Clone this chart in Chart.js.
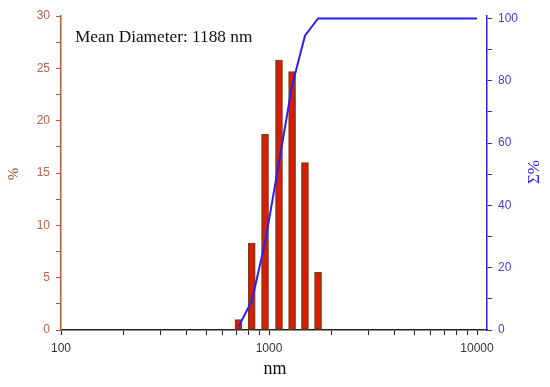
<!DOCTYPE html>
<html>
<head>
<meta charset="utf-8">
<script src="https://cdn.jsdelivr.net/npm/chart.js@4"></script>
<style>
  html, body { margin: 0; padding: 0; background: #fff; }
  #wrap { width: 550px; height: 387px; }
</style>
</head>
<body>
<div id="wrap"><canvas id="sizeChart" width="550" height="387"></canvas></div>
<script>
// particle size distribution
const sizesNm = [713, 826, 957, 1117, 1291, 1489, 1721];
const percent = [1.0, 8.3, 18.7, 25.8, 24.7, 16.0, 5.5];
const cumSizesNm = [713, 826, 957, 1117, 1291, 1489, 1721, 10000];
const cumPercent = [1.0, 9.3, 28.0, 53.8, 78.5, 94.5, 100, 100];

const xTicks = [100, 200, 300, 400, 500, 600, 700, 800, 900,
                1000, 2000, 3000, 4000, 5000, 6000, 7000, 8000, 9000, 10000];
const xLabels = [100, 1000, 10000];
const leftTicks = [0, 2.5, 5, 7.5, 10, 12.5, 15, 17.5, 20, 22.5, 25, 27.5, 30];
const rightTicks = [0, 10, 20, 30, 40, 50, 60, 70, 80, 90, 100];

const brown = '#b35a3c';
const blue = '#2d1ff0';

const textPlugin = {
    id: 'labels',
    afterDraw(chart) {
        const c = chart.ctx;
        c.save();
        c.fillStyle = '#111';
        c.font = '17.3px "Liberation Serif", serif';
        c.textBaseline = 'alphabetic';
        c.fillText('Mean Diameter: 1188 nm', 75, 41.5);

        c.textAlign = 'center';
        c.font = '18px "Liberation Serif", serif';
        c.fillText('nm', 275, 374);

        c.save();
        c.translate(14, 174);
        c.rotate(-Math.PI / 2);
        c.fillStyle = '#9c5a2c';
        c.font = '15px "Liberation Serif", serif';
        c.textBaseline = 'middle';
        c.fillText('%', 0, 0);
        c.restore();

        c.save();
        c.translate(535, 172);
        c.rotate(-Math.PI / 2);
        c.fillStyle = blue;
        c.font = '17px "Liberation Serif", serif';
        c.textBaseline = 'middle';
        c.fillText('Σ%', 0, 0);
        c.restore();
        c.restore();
    }
};

const ctx = document.getElementById('sizeChart').getContext('2d');
const sizeChart = new Chart(ctx, {
    type: 'bar',
    data: {
        datasets: [{
            type: 'line',
            data: cumSizesNm.map((v, i) => ({x: v, y: cumPercent[i]})),
            yAxisID: 'y2',
            borderColor: blue,
            borderWidth: 2,
            pointRadius: 0,
            tension: 0,
            order: 1
        }, {
            type: 'bar',
            data: sizesNm.map((v, i) => ({x: v, y: percent[i]})),
            yAxisID: 'y',
            backgroundColor: '#dc1c02',
            borderColor: '#7e3a16',
            borderWidth: 1.5,
            borderSkipped: false,
            barThickness: 7,
            order: 2
        }]
    },
    options: {
        responsive: false,
        animation: false,
        layout: { padding: { top: 16, left: 0, right: 0, bottom: 0 } },
        plugins: {
            legend: { display: false },
            tooltip: { enabled: false }
        },
        scales: {
            x: {
                type: 'logarithmic',
                min: 100,
                max: 11170,
                offset: false,
                afterBuildTicks: s => { s.ticks = xTicks.map(v => ({value: v})); },
                afterFit: s => { s.height = 57; },
                grid: { offset: false, drawOnChartArea: false, tickLength: 5, color: '#222' },
                border: { color: '#222', width: 1.5 },
                ticks: {
                    autoSkip: false,
                    maxRotation: 0,
                    padding: 6,
                    color: '#333',
                    font: { family: '"Liberation Sans", Arial, sans-serif', size: 12 },
                    callback: v => xLabels.includes(v) ? String(v) : ''
                }
            },
            y: {
                position: 'left',
                min: 0,
                max: 30,
                afterBuildTicks: s => { s.ticks = leftTicks.map(v => ({value: v})); },
                afterFit: s => { s.width = 61; },
                grid: { drawOnChartArea: false, tickLength: 5, color: brown },
                border: { color: brown, width: 1.5 },
                ticks: {
                    padding: 6,
                    color: '#c0604a',
                    font: { family: '"Liberation Sans", Arial, sans-serif', size: 12 },
                    callback: v => v % 5 === 0 ? String(v) : ''
                }
            },
            y2: {
                position: 'right',
                min: 0,
                max: 100.8,
                afterBuildTicks: s => { s.ticks = rightTicks.map(v => ({value: v})); },
                afterFit: s => { s.width = 63; },
                grid: { drawOnChartArea: false, tickLength: 5, color: blue },
                border: { color: blue, width: 1.5 },
                ticks: {
                    padding: 6,
                    color: '#4a3ae6',
                    font: { family: '"Liberation Sans", Arial, sans-serif', size: 12 },
                    callback: v => v % 20 === 0 ? String(v) : ''
                }
            }
        }
    },
    plugins: [textPlugin]
});
</script>
</body>
</html>
